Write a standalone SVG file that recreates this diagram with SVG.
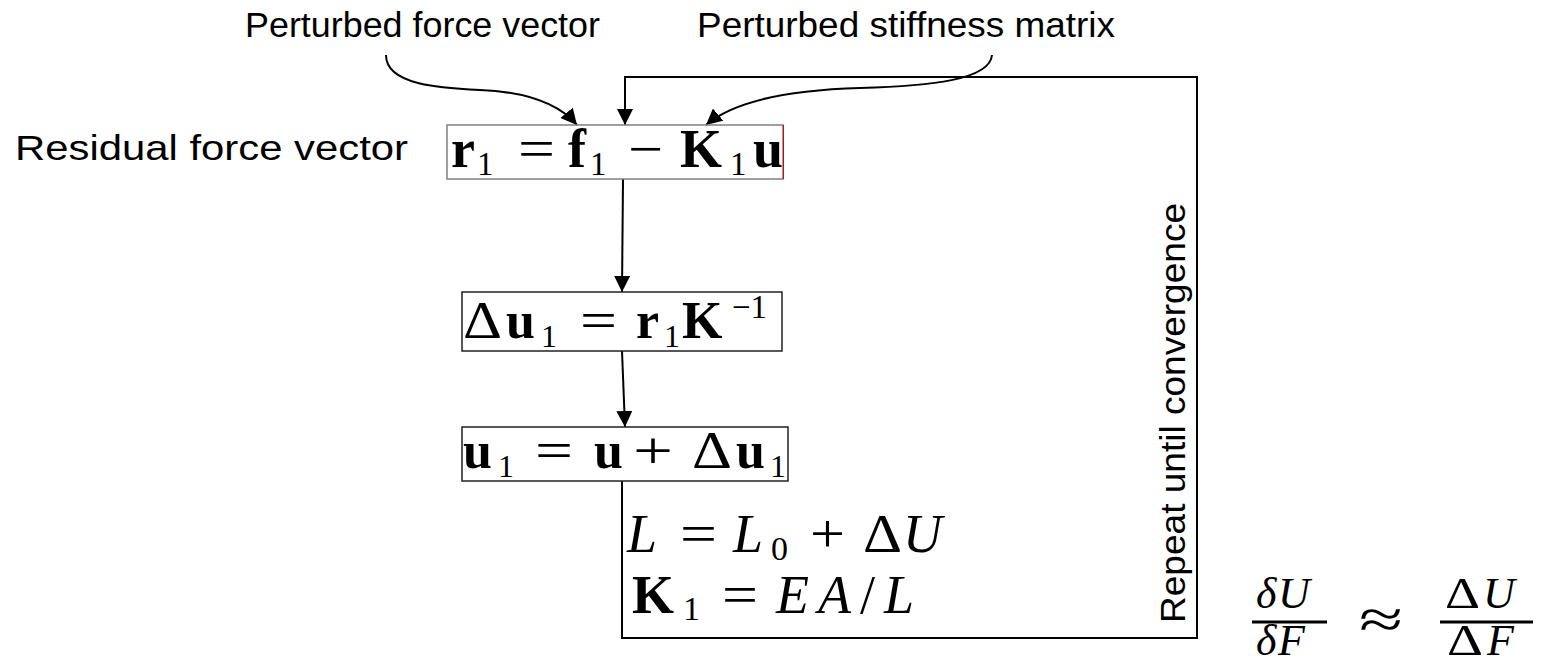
<svg xmlns="http://www.w3.org/2000/svg" width="1541" height="669" viewBox="0 0 1541 669">
<style>
.sans{font-family:"Liberation Sans",Arial,sans-serif;font-size:35px;fill:#000}
.math{font-family:"Liberation Serif","Times New Roman",serif;fill:#000}
.b{font-weight:bold}
.i{font-style:italic}
.conn{fill:none;stroke:#000;stroke-width:2}
.box{fill:none;stroke:#222;stroke-width:1.5}
</style>
<defs>
<marker id="arrow" markerUnits="userSpaceOnUse" markerWidth="16" markerHeight="16" refX="16" refY="8" orient="auto">
<path d="M0,0 L16,8 L0,16 z" fill="#000"/>
</marker>
</defs>
<rect width="1541" height="669" fill="#fff"/>

<g id="connectors">
<path class="conn" d="M386,55 C386,85 440,88 480,90 C530,92 560,105 577,125" marker-end="url(#arrow)"/>
<path class="conn" d="M992,55 C990,80 930,86 860,88 C790,90 735,100 706,125" marker-end="url(#arrow)"/>
<path class="conn" d="M622,481 L622,638 L1197,638 L1197,77 L625,77 L625,125" marker-end="url(#arrow)"/>
<path class="conn" d="M623,179 L622,292" marker-end="url(#arrow)"/>
<path class="conn" d="M622,351 L625,427" marker-end="url(#arrow)"/>
</g>

<g id="label-force">
<text class="sans" x="245" y="37" textLength="355" lengthAdjust="spacingAndGlyphs">Perturbed force vector</text>
</g>
<g id="label-stiffness">
<text class="sans" x="697" y="37" textLength="418" lengthAdjust="spacingAndGlyphs">Perturbed stiffness matrix</text>
</g>
<g id="label-residual">
<text class="sans" x="15" y="160" textLength="393" lengthAdjust="spacingAndGlyphs">Residual force vector</text>
</g>

<g id="node-r1">
<rect x="447" y="125" width="336" height="54" fill="none" stroke="#808080" stroke-width="1.5"/>
<line x1="783.5" y1="125" x2="783.5" y2="179" stroke="#e00000" stroke-width="1"/>
<text class="math" font-size="54" y="167"><tspan class="b" x="451">r</tspan><tspan x="477" y="175" font-size="33">1</tspan><tspan class="b" x="568" y="167">f</tspan><tspan x="590" y="175" font-size="33">1</tspan><tspan class="b" x="680" y="167">K</tspan><tspan x="730" y="175" font-size="33">1</tspan><tspan class="b" x="753" y="167">u</tspan></text>
<text class="math" font-size="54" x="518" y="167" textLength="37" lengthAdjust="spacingAndGlyphs">=</text>
<text class="math" font-size="54" x="628" y="167" textLength="35" lengthAdjust="spacingAndGlyphs">−</text>
</g>

<g id="node-du1">
<rect class="box" x="462" y="292" width="320" height="59"/>
<text class="math" font-size="52" x="463" y="338" textLength="39" lengthAdjust="spacingAndGlyphs">Δ</text>
<text class="math" font-size="52" y="338"><tspan class="b" x="506">u</tspan><tspan x="541" y="347" font-size="32">1</tspan><tspan class="b" x="636" y="338">r</tspan><tspan x="664" y="347" font-size="32">1</tspan><tspan class="b" x="682" y="338">K</tspan><tspan x="732" y="318" font-size="33">−1</tspan></text>
<text class="math" font-size="52" x="580" y="338" textLength="37" lengthAdjust="spacingAndGlyphs">=</text>
</g>

<g id="node-u1">
<rect class="box" x="462" y="427" width="326" height="54"/>
<text class="math" font-size="52" y="468"><tspan class="b" x="463">u</tspan><tspan x="498" y="477" font-size="32">1</tspan><tspan class="b" x="594" y="468">u</tspan><tspan class="b" x="736">u</tspan><tspan x="770" y="477" font-size="32">1</tspan></text>
<text class="math" font-size="52" x="535" y="468" textLength="38" lengthAdjust="spacingAndGlyphs">=</text>
<text class="math" font-size="52" x="633" y="468" textLength="40" lengthAdjust="spacingAndGlyphs">+</text>
<text class="math" font-size="52" x="692" y="468" textLength="40" lengthAdjust="spacingAndGlyphs">Δ</text>
</g>

<g id="node-update">
<text class="math" font-size="54" y="552"><tspan class="i" x="627">L</tspan><tspan class="i" x="733">L</tspan><tspan x="771" y="560" font-size="34">0</tspan><tspan class="i" x="903" y="552">U</tspan></text>
<text class="math" font-size="54" x="680" y="552" textLength="37" lengthAdjust="spacingAndGlyphs">=</text>
<text class="math" font-size="54" x="810" y="552" textLength="35" lengthAdjust="spacingAndGlyphs">+</text>
<text class="math" font-size="54" x="863" y="552" textLength="39" lengthAdjust="spacingAndGlyphs">Δ</text>
<text class="math" font-size="54" y="613"><tspan class="b" x="632">K</tspan><tspan x="683" y="620" font-size="34">1</tspan><tspan class="i" x="776" y="613">E</tspan><tspan class="i" x="818">A</tspan><tspan x="860">/</tspan><tspan class="i" x="884">L</tspan></text>
<text class="math" font-size="54" x="722" y="613" textLength="36" lengthAdjust="spacingAndGlyphs">=</text>
</g>

<g id="label-repeat">
<text class="sans" font-size="37" transform="translate(1185,623) rotate(-90)" x="0" y="0" textLength="420" lengthAdjust="spacingAndGlyphs">Repeat until convergence</text>
</g>

<g id="node-derivative">
<text class="math" font-size="44" y="608"><tspan class="i" x="1256">δ</tspan><tspan class="i" x="1278">U</tspan></text>
<line x1="1252" y1="622" x2="1327" y2="622" stroke="#000" stroke-width="3"/>
<text class="math" font-size="44" y="655"><tspan class="i" x="1256">δ</tspan><tspan class="i" x="1278">F</tspan></text>
<text class="math" font-size="56" x="1359" y="638" textLength="44" lengthAdjust="spacingAndGlyphs">≈</text>
<text class="math" font-size="44" x="1445" y="608" textLength="35" lengthAdjust="spacingAndGlyphs">Δ</text>
<text class="math i" font-size="44" x="1483" y="608">U</text>
<line x1="1440" y1="622" x2="1533" y2="622" stroke="#000" stroke-width="3"/>
<text class="math" font-size="44" x="1447" y="655" textLength="36" lengthAdjust="spacingAndGlyphs">Δ</text>
<text class="math i" font-size="44" x="1487" y="655">F</text>
</g>
</svg>
